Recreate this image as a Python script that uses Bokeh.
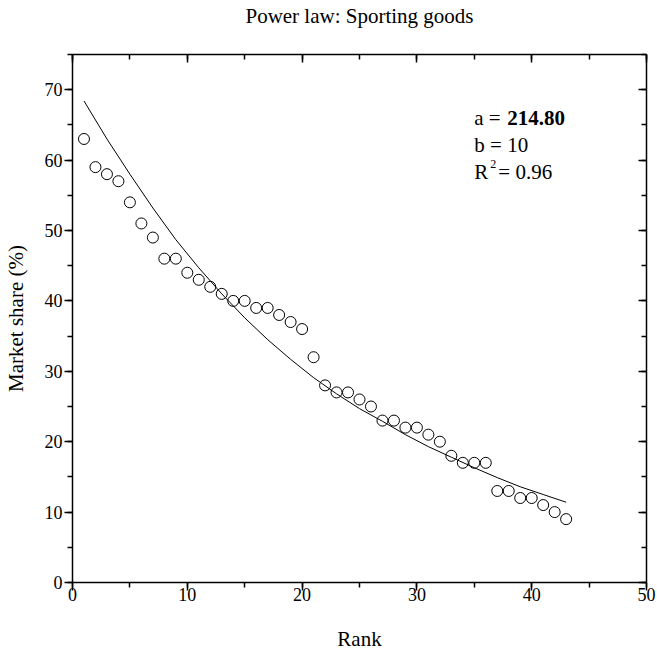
from bokeh.plotting import figure
from bokeh.models import Range1d, LinearAxis, Label, SingleIntervalTicker, CustomLabelingPolicy
from bokeh.embed import file_html
from bokeh.resources import INLINE

# data
rank = list(range(1, 44))
share = [63, 59, 58, 57, 54, 51, 49, 46, 46, 44, 43, 42, 41, 40, 40, 39, 39, 38, 37, 36,
         32, 28, 27, 27, 26, 25, 23, 23, 22, 22, 21, 20, 18, 17, 17, 17, 13, 13, 12, 12,
         11, 10, 9]
fit_rank = [1, 3, 5, 7, 9, 11, 13, 15, 17, 19, 21, 23, 25, 27, 29, 31, 33, 35, 37, 39, 41, 43]
fit_share = [68.4, 63.0, 58.0, 53.2, 48.7, 44.7, 41.0, 37.6, 34.5, 31.7, 29.1, 26.8, 24.7,
             22.9, 21.0, 19.3, 17.8, 16.3, 14.9, 13.6, 12.5, 11.4]
title_text = "Power law: Sporting goods"

FONT = "Liberation Serif"

p = figure(title=None, frame_width=574, frame_height=528, output_backend="svg",
           toolbar_location=None, x_range=Range1d(0, 50), y_range=Range1d(0, 75),
           min_border_left=65, min_border_right=10, min_border_top=40, min_border_bottom=60)
p.outline_line_color = None
p.xgrid.visible = False
p.ygrid.visible = False

no_labels = CustomLabelingPolicy(code="""
const all = [...indices]
for (const i of all) indices.unset(i)
return indices
""")

def style(ax, inside, labels):
    ax.ticker = SingleIntervalTicker(interval=10, num_minor_ticks=2)
    ax.axis_line_width = 1.5
    ax.axis_line_color = "black"
    ax.major_tick_line_width = 1.5
    ax.minor_tick_line_width = 1.5
    ax.major_tick_line_color = "black"
    ax.minor_tick_line_color = "black"
    ax.axis_label_text_font = FONT
    ax.axis_label_text_font_size = "21px"
    ax.axis_label_text_font_style = "normal"
    ax.axis_label_text_color = "black"
    if inside:
        ax.major_tick_in, ax.major_tick_out = 8, 0
        ax.minor_tick_in, ax.minor_tick_out = 5, 0
    else:
        ax.major_tick_in, ax.major_tick_out = 0, 8
        ax.minor_tick_in, ax.minor_tick_out = 0, 5
    if labels:
        ax.major_label_text_font = FONT
        ax.major_label_text_font_size = "18px"
        ax.major_label_text_color = "black"
        ax.major_label_standoff = 2
    else:
        ax.major_label_policy = no_labels
        ax.major_label_standoff = 0
        ax.axis_label_standoff = 0

style(p.xaxis[0], False, True)
style(p.yaxis[0], False, True)
p.xaxis.axis_label = "Rank"
p.yaxis.axis_label = "Market share (%)"
p.xaxis.major_label_standoff = -3
p.xaxis.axis_label_standoff = 23
p.yaxis.axis_label_standoff = 14

# top frame edge; its axis label carries the chart title
top = LinearAxis()
style(top, True, False)
top.axis_label = title_text
top.axis_label_standoff = 16
p.add_layout(top, "above")
right = LinearAxis()
style(right, True, False)
p.add_layout(right, "right")

p.line(fit_rank, fit_share, line_color="black", line_width=1)
p.scatter(rank, share, marker="circle", size=11, fill_color=None,
          line_color="black", line_width=1)

lab = dict(text_font=FONT, text_font_size="21px", text_baseline="alphabetic", text_color="black")
p.add_layout(Label(x=35, y=66.0, text="a =", **lab))
p.add_layout(Label(x=35, y=66.0, x_offset=33, text="214.80", text_font_style="bold", **lab))
p.add_layout(Label(x=35, y=62.1, text="b = 10", **lab))
p.add_layout(Label(x=35, y=58.3, text="R", **lab))
p.add_layout(Label(x=35, y=58.3, x_offset=16, y_offset=8, text="2", text_font=FONT,
                   text_font_size="12px", text_baseline="alphabetic", text_color="black"))
p.add_layout(Label(x=35, y=58.3, x_offset=24, text="= 0.96", **lab))

open("out.html", "w").write(file_html(p, INLINE))
